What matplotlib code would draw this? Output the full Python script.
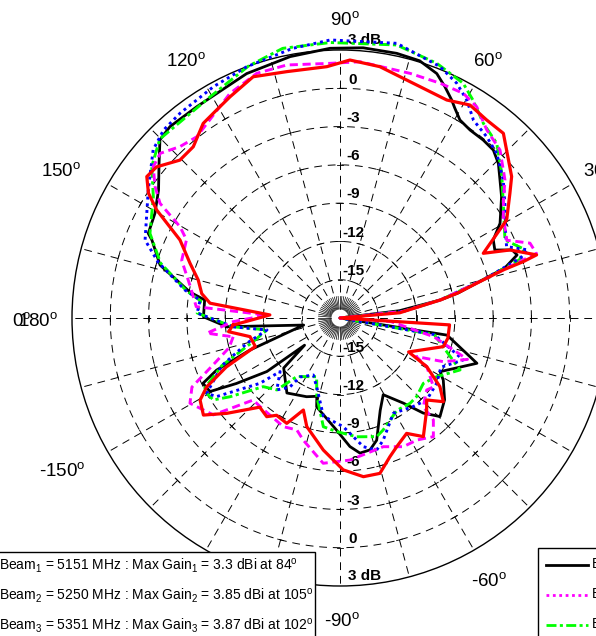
import numpy as np
import matplotlib
matplotlib.use('Agg')
import matplotlib.pyplot as plt
from matplotlib.lines import Line2D
from matplotlib.patches import Rectangle
from matplotlib.transforms import ScaledTranslation

plt.rcParams['font.family'] = ['Liberation Sans', 'DejaVu Sans']
plt.rcParams['mathtext.fontset'] = 'custom'
plt.rcParams['mathtext.rm'] = 'Liberation Sans'
plt.rcParams['mathtext.it'] = 'Liberation Sans:italic'
plt.rcParams['mathtext.bf'] = 'Liberation Sans:bold'

# ---------------- data (angle in degrees, gain in dB) ----------------
beam1_angle = [-175.6, -169, -160.4, -157.1, -154.5, -150.5, -147.7, -143.8, -142.5, -138.4,
               -125.3, -113, -106.5, -104.7, -91.7, -85.6, -81.6, -77.2, -73.3, -66.5,
               -60.6, -53.4, -48.8, -44.6, -38, -31, -28.2, -18.3, -9.1, -2,
               2, 7, 10.2, 12, 16.9, 19.6, 21.6, 23.7, 27, 30.6,
               36.9, 40.8, 44.3, 47.6, 51.2, 55.3, 58.8, 61.3, 62.9, 65.6,
               68.4, 72.8, 77.9, 85.1, 92.1, 100.8, 110.9, 124.1, 131.6, 135.3,
               139.8, 144.8, 150.5, 156.2, 157.5, 163.6, 170.2, 172.4, 179.5, 184.4]
beam1_gain = [-9.1, -15.1, -10.5, -7.5, -6.1, -6.3, -8.4, -10.9, -14.5, -12.1,
              -10.8, -11.3, -11.6, -10.8, -9.2, -7.9, -7.3, -7.4, -8.0, -10.1,
              -11.1, -9.7, -8.1, -7.0, -7.6, -8.56, -9.1, -6.7, -9.5, -18,
              -18, -13.3, -10.0, -8.5, -4.5, -3.27, -3.5, -4.75, -4.52, -3.43,
              -2.17, -1.44, -0.66, -0.18, -0.1, -0.09, 0.14, 0.74, 1.2, 1.9,
              2.6, 3.1, 3.21, 3.25, 3.15, 2.85, 2.5, 2.0, 2.06, 1.85,
              0.57, -0.6, -1.34, -1.58, -2.05, -3.3, -6.07, -7.3, -7.3, -9.1]

beam2_angle = [-175.3, -170.7, -165, -158, -150.5, -147.5, -140.8, -138.2, -131.3, -126,
               -124.3, -115.1, -108.7, -99.6, -88.3, -79.7, -74.5, -70.5, -60.8, -50.4,
               -43.4, -34, -26, -18.8, -10, -2, 2, 6, 10.2, 14.9,
               18.4, 19.9, 23.2, 29, 34, 40.2, 46.4, 51, 56, 59.8,
               63.6, 68.3, 78.3, 92, 100, 110.4, 118.7, 128, 133.2, 138,
               146.3, 158.2, 162.9, 169.8, 172.7, 178, 184.7]
beam2_gain = [-9.6, -12.2, -10.5, -8.0, -6.0, -6.54, -9.9, -11.7, -10.5, -11.3,
              -12.4, -13.07, -12.3, -10.2, -9.48, -7.75, -7.26, -7.85, -9.44, -9.0,
              -8.65, -8.86, -9.2, -7.8, -10.5, -18, -18, -13, -10.0, -6.4,
              -3.1, -2.33, -3.8, -3.2, -2.4, -1.25, -0.19, 0.27, 0.7, 1.76,
              2.55, 3.2, 3.98, 3.8, 3.45, 3.0, 2.66, 2.36, 2.2, 1.7,
              0.06, -1.55, -3.08, -5.66, -6.95, -6.8, -9.6]

beam3_angle = [-175.3, -170.7, -165, -158, -152.2, -147.1, -144.4, -138.2, -131.3, -126.4,
               -111.7, -106.5, -98.7, -91.7, -82, -72.8, -68.9, -58.4, -50.6, -45.7,
               -38.1, -31.3, -23.4, -10, -2, 2, 6, 10.2, 14.9, 18,
               20.5, 25.3, 34.3, 41.8, 48.1, 53.6, 58.6, 62.3, 69.2, 78.3,
               92, 102, 110, 120.4, 135.2, 141.2, 147, 156, 163, 170,
               173, 178, 184.7]
beam3_gain = [-9.6, -12.2, -11, -8, -5.9, -6.18, -7.4, -9.93, -10.5, -12.3,
              -13.05, -11.6, -9.38, -9.1, -8.6, -8.27, -8.6, -9.5, -9.35, -9.4,
              -9.7, -9.14, -7.75, -10.5, -18, -18, -13, -10, -6.4, -3.2,
              -2.6, -3.7, -2.5, -1.0, 0.39, 0.94, 2.0, 2.77, 3.35, 3.85,
              3.6, 3.6, 3.0, 2.1, 1.9, 0.93, -0.56, -1.7, -3.3, -5.8,
              -7.0, -6.8, -9.6]

beam4_angle = [-170, -165, -160, -155, -150.4, -142.6, -136.6, -132, -117.5, -111.1,
               -106.7, -96.6, -86, -78.8, -71.4, -63.8, -57.8, -51.8, -47.5, -46.8,
               -39.7, -36.4, -29.3, -26.8, -22.9, -18, -11.3, -4, 3, 6,
               10.2, 14.9, 16.5, 18.2, 21.5, 25, 31.8, 35.8, 39.9, 46.4,
               52, 57.1, 61.2, 66.9, 74, 85.5, 92.2, 101.9, 108.8, 116.1,
               128.3, 133, 137.5, 141, 144.6, 147.5, 150.3, 153, 160, 168,
               175.5, 177.7, 182, 186.5, 190]
beam4_gain = [-9.5, -9.0, -7.5, -5.2, -4.48, -5.5, -8.65, -8.65, -8.4, -8.6,
              -8.0, -6.54, -6.84, -7.19, -7.36, -6.76, -6.7, -6.17, -7.17, -8.46,
              -9.17, -8.9, -10.2, -11.3, -9.2, -7.5, -10.5, -14, -18, -13,
              -10, -6.4, -4.6, -1.8, -2.0, -3.58, -2.94, -2.21, -1.15, 0.18,
              0.69, 1.72, 2.08, 2.0, 1.94, 2.14, 1.97, 2.26, 2.25, 1.6,
              0.1, 0.37, 1.1, 0.83, -0.22, -1.28, -3.57, -4.5, -4.8, -6.0,
              -6.7, -12.25, -9.6, -7.5, -9.5]

beam5_angle = [-176.2, -173, -168.3, -161.4, -156.7, -152.7, -149.6, -144.6, -139.9, -132,
               -126.6, -123.1, -116.8, -111.7, -107, -97.2, -88.8, -81.6, -75.6, -70.2,
               -66.2, -60, -54.9, -46.7, -43.4, -39, -34.5, -29.3, -26.3, -15.5,
               -10.6, -3.6, 0, 5, 10.2, 11.9, 14.9, 16.4, 17.1, 17.8,
               21.8, 24.3, 30.5, 36.3, 39.5, 48.5, 53.5, 58.6, 63.9, 70.9,
               81, 87.8, 93, 102.2, 109.8, 116.4, 120.7, 125.1, 130.6, 135.4,
               140.5, 143.8, 146.9, 149.5, 154, 160, 165, 170, 173.5, 177.5,
               183.8]
beam5_gain = [-9.6, -9.2, -10.8, -11.0, -8.3, -6.25, -5.29, -4.87, -6.4, -8.6,
              -8.37, -8.9, -8.75, -10.24, -9.1, -7.57, -6.1, -5.43, -5.43, -6.45,
              -6.98, -7.56, -6.64, -8.1, -8.65, -7.58, -8.5, -10.2, -12.0, -9.6,
              -9.4, -9.4, -18, -13.3, -10.0, -8.65, -6.38, -4.66, -2.97, -1.82,
              -3.65, -5.68, -2.84, -1.48, -0.57, 1.32, 1.31, 1.55, 1.02, 1.18,
              1.94, 2.23, 1.72, 1.75, 2.09, 1.36, 0.95, 0.64, -0.33, -0.38,
              0.62, 0.76, -0.08, -1.33, -4.05, -5.5, -6.5, -7.0, -7.75, -12.5,
              -9.6]

ring_levels = [-15, -12, -9, -6, -3, 0]
ring_labels_top = ['-15', '-12', '-9', '-6', '-3', '0']
r_min, r_max = -18, 3
spoke_step = 15
angle_label_text = ['90', '60', '120', '150', '30', '180', '-150', '-60', '-90']

legend_left = ['Beam$_1$ = 5151 MHz : Max Gain$_1$ = 3.3 dBi at 84$^\\mathrm{o}$',
               'Beam$_2$ = 5250 MHz : Max Gain$_2$ = 3.85 dBi at 105$^\\mathrm{o}$',
               'Beam$_3$ = 5351 MHz : Max Gain$_3$ = 3.87 dBi at 102$^\\mathrm{o}$']
legend_right = ['Beam$_1$ = 5151 MHz', 'Beam$_2$ = 5250 MHz', 'Beam$_3$ = 5351 MHz']

# ---------------- figure ----------------
W, H = 596, 636
fig = plt.figure(figsize=(W / 100, H / 100), dpi=100)
CX, CY, R = 340, 318, 268
ax = fig.add_axes([(CX - R) / W, (H - CY - R) / H, 2 * R / W, 2 * R / H], projection='polar')
ax.set_rlim(r_min, r_max)
ax.set_xticks([])
ax.set_yticks([])
ax.grid(False)
ax.spines['polar'].set_linewidth(1.0)

def rpx(level):
    return (level - r_min) / (r_max - r_min) * R

grid_kw = dict(color='k', lw=0.7, ls=(0, (8, 6)), zorder=1)
th = np.linspace(0, 2 * np.pi, 1441)
for lev in ring_levels:
    ax.plot(th, np.full_like(th, lev), **grid_kw)
for a in range(0, 360, spoke_step):
    t = np.deg2rad(a)
    ax.plot([t, t], [-16, r_max], **grid_kw)
    for lev in ring_levels:
        half = 2.0 if lev <= -15 else 3.0
        dt = half / rpx(lev)
        ax.plot([t - dt, t + dt], [lev, lev], color='k', lw=0.6, zorder=1)
for a in range(0, 360, 5):
    t = np.deg2rad(a)
    ax.plot([t, t], [-17.3, -16.3], color='k', lw=0.5, zorder=1)

# radial labels (top and bottom)
def off(dx, dy):
    return ax.transData + ScaledTranslation(dx / 100, dy / 100, fig.dpi_scale_trans)

for lev, lab in zip(ring_levels, ring_labels_top):
    for ang in (np.pi / 2, -np.pi / 2):
        ax.text(ang, lev, lab, transform=off(13, 8.7), ha='center', va='center',
                fontsize=11, fontweight='bold', zorder=2)
for ang in (np.pi / 2, -np.pi / 2):
    ax.text(ang, r_max, '3 dB', transform=off(8, 9.5), ha='left', va='center',
            fontsize=11, fontweight='bold', zorder=2)

# curves
curves = [
    (beam1_angle, beam1_gain, dict(color='k', lw=2.0, ls='-'), 3),
    (beam3_angle, beam3_gain, dict(color='#00FF00', lw=2.1, ls=(0, (3.6, 1.2, 1.1, 1.2))), 4),
    (beam2_angle, beam2_gain, dict(color='#0000FF', lw=2.1, ls=(0, (1, 1.3))), 5),
    (beam4_angle, beam4_gain, dict(color='#FF00FF', lw=2.1, ls=(0, (2.8, 1.6))), 6),
    (beam5_angle, beam5_gain, dict(color='#FF0000', lw=2.3, ls='-'), 7),
]
for ang, gain, style, z in curves:
    t = np.deg2rad(np.asarray(ang, dtype=float))
    g = np.clip(np.asarray(gain, dtype=float), r_min, None)
    ax.plot(t, g, zorder=z, clip_on=False, **style)

# angle labels (pixel centres)
def fxy(x, y):
    return x / W, 1 - y / H

deg = '$^\\mathrm{o}$'
ang_pos = {'90': (345, 20, 'center'), '60': (488, 61, 'center'), '120': (186, 61, 'center'),
           '150': (61, 171, 'center'), '30': (583, 171, 'left'), '180': (18, 321, 'left'),
           '-150': (62, 471, 'center'), '-60': (489, 581, 'center'), '-90': (342, 621, 'center')}
for lab in angle_label_text:
    x, y, ha = ang_pos[lab]
    fig.text(*fxy(x, y), lab + deg, ha=ha, va='center', fontsize=13.5, zorder=0.5)
fig.text(*fxy(12, 321), '0' + deg, ha='left', va='center', fontsize=13.5, zorder=0.5)

# left legend box
fig.add_artist(Rectangle(fxy(-10, 660), 325 / W, (660 - 552) / H, transform=fig.transFigure,
                         facecolor='white', edgecolor='k', lw=1.0, zorder=1))
for i, txt in enumerate(legend_left):
    fig.text(*fxy(-1, 566 + 30 * i), txt, ha='left', va='center', fontsize=10, zorder=3)

# right legend box
fig.add_artist(Rectangle(fxy(538, 660), 80 / W, (660 - 548) / H, transform=fig.transFigure,
                         facecolor='white', edgecolor='k', lw=1.0, zorder=1))
leg_styles = [dict(color='k', lw=2.0, ls='-'),
              dict(color='#FF00FF', lw=2.0, ls=(0, (1, 1.3))),
              dict(color='#00FF00', lw=2.0, ls=(0, (3.6, 1.2, 1.1, 1.2)))]
for i, (txt, st) in enumerate(zip(legend_right, leg_styles)):
    y = 565 + 30 * i
    x0, y0 = fxy(546, y)
    x1, _ = fxy(588, y)
    fig.add_artist(Line2D([x0, x1], [y0, y0], transform=fig.transFigure, zorder=2, **st))
    fig.text(*fxy(591, y), txt, ha='left', va='center', fontsize=10, zorder=3)

fig.savefig('out.png', dpi=100, facecolor='white')
